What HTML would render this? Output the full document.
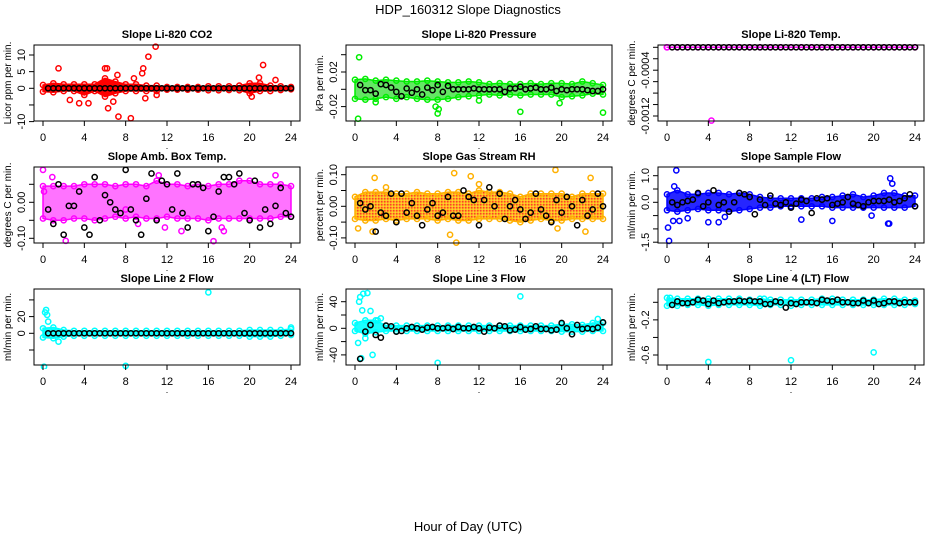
<!DOCTYPE html>
<html><head><meta charset="utf-8"><style>
html,body{margin:0;padding:0;background:#fff;}
svg{display:block;font-family:"Liberation Sans",sans-serif;}
</style></head><body>
<svg id="chart" width="936" height="540" viewBox="0 0 936 540">
<defs>
<pattern id="rhpat" width="3" height="3" patternUnits="userSpaceOnUse">
<rect width="3" height="3" fill="#ffa500"/><rect width="1.5" height="1.5" fill="#ff2000"/><rect x="1.5" y="1.5" width="1.5" height="1.5" fill="#ffd000"/>
</pattern>
<pattern id="speck" width="4" height="4" patternUnits="userSpaceOnUse">
<rect width="4" height="4" fill="#fff"/><rect width="2" height="2" fill="#000"/><rect x="2" y="2" width="2" height="2" fill="#000"/>
</pattern>
</defs>
<text x="468" y="14" text-anchor="middle" font-size="13">HDP_160312  Slope Diagnostics</text>
<text x="468" y="531" text-anchor="middle" font-size="13">Hour of Day (UTC)</text>
<g id="panels"></g>
</svg>
<script>
// ---- data ----
const hours = [0,1,2,3,4,5,6,7,8,9,10,11,12,13,14,15,16,17,18,19,20,21,22,23,24];
const blackTimes = [0.5,1,1.5,2,2.5,3,3.5,4,4.5,5,5.5,6,6.5,7,7.5,8,8.5,9,9.5,10,10.5,11,11.5,12,12.5,13,13.5,14,14.5,15,15.5,16,16.5,17,17.5,18,18.5,19,19.5,20,20.5,21,21.5,22,22.5,23,23.5,24];
const xTicks = [0,4,8,12,16,20,24];

const co2Hi = [1,1.5,1.2,1.2,1.2,1.2,3,2,1.2,1.2,0.8,0.8,0.4,0.4,0.4,0.4,0.6,0.6,0.6,0.8,1.5,1.5,0.8,0.6,0.4];
const co2Lo = [-1,-1.2,-0.8,-0.8,-2,-0.8,-2.5,-1.5,-0.8,-0.8,-0.8,-0.8,-0.4,-0.4,-0.4,-0.4,-0.6,-0.6,-0.5,-0.6,-1.5,-0.8,-0.8,-0.5,-0.3];
const co2OutT = [1.5,2.6,3.5,4.4,6.3,6.8,7.2,7.3,8.5,8.8,9.6,9.7,9.9,10.2,10.9,11,20.2,20.9,21.3,22.5,6,6.2];
const co2OutV = [6,-3.5,-4.5,-4.5,-6,-4,4,-8.5,-9,3,4.5,6,-3,9.5,12.5,-2,-2.5,3.2,7,2.5,6,6];
const co2Black = [0,0,0,0,0,0,0,0,0,0,0,0,0,0,0,0,0,0,0,0,0,0,0,0,0,0,0,0,0,0,0,0,0,0,0,0,0,0,0,0,0,0,0,0,0,0,0,0];

const presHi = [0.011,0.012,0.01,0.011,0.01,0.009,0.009,0.01,0.009,0.008,0.008,0.009,0.008,0.006,0.007,0.006,0.006,0.007,0.006,0.007,0.007,0.006,0.009,0.007,0.005];
const presLo = [-0.011,-0.012,-0.011,-0.009,-0.011,-0.009,-0.011,-0.012,-0.012,-0.011,-0.009,-0.008,-0.007,-0.006,-0.007,-0.006,-0.007,-0.006,-0.006,-0.006,-0.009,-0.008,-0.007,-0.005,-0.006];
const presOutT = [0.4,0.3,8,8.1,7.8,16,24,12,2,19.8];
const presOutV = [0.037,-0.034,-0.028,-0.023,-0.02,-0.026,-0.027,-0.013,-0.015,-0.016];
const presBlack = [0.005,-0.001,-0.001,-0.005,0.006,0.005,0.002,-0.003,-0.008,0.001,-0.004,0,-0.006,0.002,-0.001,0.005,-0.003,0.004,0,0,0,0,0.001,0,0,0,0,0,-0.003,0.001,0.001,0.003,0,0.001,0.002,0,0,0.002,-0.002,0,-0.001,0,0,0,-0.001,-0.002,-0.002,0];

const tempHi = [0,0,0,0,0,0,0,0,0,0,0,0,0,0,0,0,0,0,0,0,0,0,0,0,0];
const tempLo = [0,0,0,0,0,0,0,0,0,0,0,0,0,0,0,0,0,0,0,0,0,0,0,0,0];
const tempOutT = [4.3,0];
const tempOutV = [-0.00128,0];
const tempBlack = [0,0,0,0,0,0,0,0,0,0,0,0,0,0,0,0,0,0,0,0,0,0,0,0,0,0,0,0,0,0,0,0,0,0,0,0,0,0,0,0,0,0,0,0,0,0,0,0];

const ambHi = [0.045,0.045,0.045,0.045,0.05,0.05,0.05,0.045,0.05,0.05,0.045,0.06,0.05,0.05,0.045,0.05,0.045,0.05,0.05,0.06,0.06,0.05,0.05,0.05,0.045];
const ambLo = [-0.045,-0.05,-0.05,-0.045,-0.045,-0.05,-0.045,-0.04,-0.045,-0.04,-0.045,-0.045,-0.04,-0.045,-0.045,-0.045,-0.05,-0.045,-0.045,-0.045,-0.045,-0.045,-0.045,-0.04,-0.04];
const ambOutT = [0,0.9,2.2,9.2,11.8,13.4,16.5,17.5,22.5,11.2,0.1,8,17.3];
const ambOutV = [0.09,0.07,-0.107,-0.06,-0.07,-0.08,-0.108,-0.08,0.075,0.075,0.03,-0.02,-0.07];
const ambBlack = [-0.02,-0.06,0.05,-0.09,-0.01,-0.01,0.03,-0.07,-0.09,0.07,-0.05,0.02,0,-0.02,-0.03,0.09,-0.02,-0.05,-0.09,0.01,0.08,-0.05,0.06,0.05,-0.02,0.08,-0.03,-0.07,0.05,0.05,0.04,-0.08,-0.04,0.03,0.07,0.07,0.05,0.08,-0.03,-0.05,0.06,-0.07,-0.02,-0.06,-0.01,0.04,-0.03,-0.04];

const rhHi = [0.03,0.045,0.045,0.045,0.04,0.04,0.045,0.04,0.04,0.045,0.045,0.04,0.05,0.045,0.045,0.04,0.03,0.04,0.04,0.04,0.04,0.03,0.04,0.04,0.04];
const rhLo = [-0.04,-0.045,-0.045,-0.04,-0.045,-0.04,-0.04,-0.04,-0.045,-0.04,-0.045,-0.045,-0.04,-0.04,-0.04,-0.045,-0.05,-0.045,-0.04,-0.045,-0.045,-0.04,-0.04,-0.04,-0.04];
const rhOutT = [0.3,1.9,9.6,9.8,9.2,11.2,19.4,22.3,22.8,1.7,19.6,12,3];
const rhOutV = [-0.07,0.09,0.105,-0.115,-0.09,0.095,0.115,-0.08,0.09,-0.08,-0.07,0.07,0.06];
const rhBlack = [0.01,-0.01,0,-0.08,-0.02,-0.03,0.04,-0.05,0.04,-0.02,0.01,-0.03,-0.06,-0.01,0.01,-0.03,-0.02,0.03,-0.03,-0.03,0.05,0.03,0.02,-0.06,0.02,0.06,0,0.04,-0.04,0,0.02,-0.01,-0.04,-0.02,0.04,-0.01,-0.03,-0.05,0.02,-0.02,0.03,0,-0.06,0.02,-0.03,-0.01,0.04,0];

const flowHi = [0.3,0.45,0.3,0.3,0.35,0.35,0.3,0.35,0.3,0.2,0.15,0.15,0.15,0.15,0.15,0.2,0.2,0.25,0.3,0.2,0.25,0.35,0.35,0.25,0.25];
const flowLo = [-0.3,-0.35,-0.3,-0.25,-0.3,-0.3,-0.35,-0.3,-0.25,-0.2,-0.2,-0.15,-0.15,-0.15,-0.15,-0.15,-0.2,-0.2,-0.2,-0.2,-0.2,-0.2,-0.2,-0.2,-0.15];
const flowOutT = [0.1,0.2,0.7,0.9,0.6,1.2,2,4,13,16,19.8,21.4,21.6,21.8,5,5.6,21.5];
const flowOutV = [-0.95,-1.45,0.6,1.2,-0.7,-0.7,-0.6,-0.75,-0.65,-0.7,-0.5,-0.8,0.9,0.7,-0.75,-0.55,-0.8];
const flowBlack = [0,-0.1,0,0.05,0.1,0.35,-0.15,0,0.45,-0.1,0,-0.35,0,0.35,0.3,0.2,-0.45,0.1,-0.1,0.25,-0.05,-0.1,0,-0.2,-0.05,0.1,0.05,-0.4,0.15,0.1,0.15,-0.1,-0.05,0,0.2,-0.05,-0.1,-0.15,0,0.05,0.05,0.05,0.1,0,0.05,0.15,0.3,-0.15];

const l2Hi = [6,7,4,3,3,3,3,3,3,3,3,3,3,3,3,3,3,3,3,3,4,4,4,4,5];
const l2Lo = [-5,-6,-4,-3,-3,-3,-3,-3,-3,-3,-3,-3,-3,-3,-3,-3,-3,-3,-3,-3,-4,-4,-4,-3,-2];
const l2OutT = [0.2,0.3,0.4,0.5,0.1,8,16,1.5,24];
const l2OutV = [25,28,22,14,-40,-39,49,-10,7];
const l2Black = [0,0,0,0,0,0,0,0,0,0,0,0,0,0,0,0,0,0,0,0,0,0,0,0,0,0,0,0,0,0,0,0,0,0,0,0,0,0,0,0,0,0,0,0,0,0,0,0];

const l3Hi = [8,12,12,4,4,4,4,4,4,4,4,4,4,4,4,4,4,4,4,4,6,6,5,8,8];
const l3Lo = [-4,-8,-6,-4,-4,-4,-4,-4,-4,-4,-4,-4,-4,-4,-4,-4,-4,-4,-4,-4,-5,-5,-5,-4,-4];
const l3OutT = [0.3,0.5,0.4,0.8,1.2,0.7,1.5,1.0,0.6,1.7,8,16,2.2,2.5,23.5];
const l3OutV = [-22,47,40,52,53,27,26,-15,-45,-40,-52,48,12,15,14];
const l3Black = [-46,-5,5,-10,-14,4,3,-5,-4,0,2,0,-2,1,2,0,0,1,-1,2,0,0,2,0,-5,1,0,4,3,-3,-2,2,-2,-1,3,-1,-1,-3,-2,8,0,-9,5,-1,0,-1,1,9];

const l4Hi = [0.05,0.04,0.04,0.04,0.04,0.04,0.04,0.04,0.03,0.04,0.03,0.03,0.03,0.03,0.03,0.04,0.04,0.03,0.03,0.03,0.03,0.04,0.04,0.03,0.02];
const l4Lo = [-0.04,-0.04,-0.03,-0.03,-0.04,-0.03,-0.03,-0.03,-0.03,-0.04,-0.03,-0.03,-0.04,-0.03,-0.03,-0.03,-0.03,-0.03,-0.03,-0.03,-0.03,-0.03,-0.03,-0.03,-0.02];
const l4OutT = [4,12,20,0.3,9.4];
const l4OutV = [-0.68,-0.66,-0.57,0.05,0.04];
const l4Black = [-0.03,0.01,-0.01,-0.01,0,0.03,0.02,-0.02,0.02,-0.01,0,0.01,0.01,0.02,0.01,0.02,0.01,0.01,-0.02,-0.02,0.01,0,-0.06,-0.01,-0.02,0,0,0,-0.01,0.03,0.02,0.01,0.03,0,0,-0.01,-0.01,0.02,-0.01,0.02,-0.02,-0.01,0.01,0.01,-0.01,0,0,0];

// ---- layout / rendering ----
const NS = "http://www.w3.org/2000/svg";
const root = document.getElementById('panels');
function mk(tag, attrs, parent) {
  const e = document.createElementNS(NS, tag);
  for (const k in attrs) e.setAttribute(k, attrs[k]);
  parent.appendChild(e);
  return e;
}
const panels = [
  {title:"Slope Li-820 CO2", ylab:"Licor ppm per min.", col:0,row:0, r1:[0,88.3], r2:[10,55], ticks:[-10,-5,0,5,10], labs:{"10":"10","5":"5","0":"0","-10":"-10"}, color:"#ff0000", fill:"#ff0000", op:1, hi:co2Hi, lo:co2Lo, ot:co2OutT, ov:co2OutV, bk:co2Black, name:"co2"},
  {title:"Slope Li-820 Pressure", ylab:"kPa per min.", col:1,row:0, r1:[0,89.3], r2:[0.02,72], ticks:[-0.04,-0.02,0,0.02,0.04], labs:{"0.02":"0.02","-0.02":"-0.02"}, color:"#00ee00", fill:"#22dd22", op:0.7, hi:presHi, lo:presLo, ot:presOutT, ov:presOutV, bk:presBlack, name:"pressure"},
  {title:"Slope Li-820 Temp.", ylab:"degrees C per min.", col:2,row:0, r1:[0,47.3], r2:[-0.0012,116], ticks:[0,-0.0002,-0.0004,-0.0006,-0.0008,-0.001,-0.0012], labs:{"-0.0004":"-0.0004","-0.0012":"-0.0012"}, color:"#ff00ff", fill:"#ff00ff", op:1, hi:tempHi, lo:tempLo, ot:tempOutT, ov:tempOutV, bk:tempBlack, name:"temp"},
  {title:"Slope Amb. Box Temp.", ylab:"degrees C per min.", col:0,row:1, r1:[0,202.3], r2:[-0.1,238.3], ticks:[-0.1,-0.05,0,0.05], labs:{"0":"0.00","-0.1":"-0.10"}, color:"#ff00ff", fill:"#ff00ff", op:0.55, hi:ambHi, lo:ambLo, ot:ambOutT, ov:ambOutV, bk:ambBlack, name:"amb-temp"},
  {title:"Slope Gas Stream RH", ylab:"percent per min.", col:1,row:1, r1:[0,206.3], r2:[0.1,174.7], ticks:[-0.1,-0.05,0,0.05,0.1], labs:{"0.1":"0.10","0":"0.00","-0.1":"-0.10"}, color:"#ffb000", fill:"url(#rhpat)", op:0.85, hi:rhHi, lo:rhLo, ot:rhOutT, ov:rhOutV, bk:rhBlack, name:"rh"},
  {title:"Slope Sample Flow", ylab:"ml/min per min.", col:2,row:1, r1:[0,202.3], r2:[1,175.7], ticks:[-1.5,-1,-0.5,0,0.5,1], labs:{"1":"1.0","0":"0.0","-1.5":"-1.5"}, color:"#0000ff", fill:"#0000ff", op:0.85, hi:flowHi, lo:flowLo, ot:flowOutT, ov:flowOutV, bk:flowBlack, name:"sample-flow"},
  {title:"Slope Line 2 Flow", ylab:"ml/min per min.", col:0,row:2, r1:[0,333.3], r2:[-40,366.7], ticks:[-40,-20,0,20,40], labs:{"20":"20","0":"0","-40":"-40"}, color:"#00ffff", fill:"#00ffff", op:0.9, hi:l2Hi, lo:l2Lo, ot:l2OutT, ov:l2OutV, bk:l2Black, name:"line2-flow"},
  {title:"Slope Line 3 Flow", ylab:"ml/min per min.", col:1,row:2, r1:[0,328.3], r2:[40,301.7], ticks:[-40,-20,0,20,40], labs:{"40":"40","0":"0","-40":"-40"}, color:"#00ffff", fill:"#00ffff", op:0.9, hi:l3Hi, lo:l3Lo, ot:l3OutT, ov:l3OutV, bk:l3Black, name:"line3-flow"},
  {title:"Slope Line 4 (LT) Flow", ylab:"ml/min per min.", col:2,row:2, r1:[0,302.3], r2:[-0.6,355], ticks:[-0.6,-0.4,-0.2,0], labs:{"-0.2":"-0.2","-0.6":"-0.6"}, color:"#00ffff", fill:"#00ffff", op:0.9, hi:l4Hi, lo:l4Lo, ot:l4OutT, ov:l4OutV, bk:l4Black, name:"line4-flow"}
];

panels.forEach(p => {
  const g = mk('g', {}, root);
  
  
  const bx0 = 34 + 312*p.col, bx1 = 300 + 312*p.col;
  const by0 = 45 + 122*p.row, by1 = 121 + 122*p.row;
  const xs = t => 43 + 312*p.col + t*248/24;
  const k = (p.r2[1]-p.r1[1])/(p.r2[0]-p.r1[0]);
  const ys = v => p.r1[1] + (v - p.r1[0])*k;
  const clip = mk('clipPath', {id:'clip-'+p.name}, g);
  mk('rect', {x:bx0, y:by0-4, width:bx1-bx0, height:by1-by0+8}, clip);
  const data = mk('g', {'clip-path':'url(#clip-'+p.name+')'}, g);
  let d = '';
  hours.forEach((h,i) => { d += (i?'L':'M') + xs(h).toFixed(1) + ' ' + ys(p.hi[i]).toFixed(1); });
  for (let i = hours.length-1; i >= 0; i--) d += 'L' + xs(hours[i]).toFixed(1) + ' ' + ys(p.lo[i]).toFixed(1);
  const band = mk('path', {d:d+'Z', fill:p.fill, 'fill-opacity':p.op, stroke:p.color, 'stroke-width':1.5, 'stroke-linejoin':'round'}, data);
  
  
  hours.forEach((h,i) => {
    [p.hi[i], p.lo[i]].forEach(v => {
      const c = mk('circle', {cx:xs(h), cy:ys(v), r:2.6, fill:'none', stroke:p.color, 'stroke-width':1.5}, data);
      
      
    });
  });
  p.ot.forEach((t,i) => {
    const c = mk('circle', {cx:xs(t), cy:ys(p.ov[i]), r:2.6, fill:'none', stroke:p.color, 'stroke-width':1.5}, data);
    
    
  });
  blackTimes.forEach((t,i) => {
    const c = mk('circle', {cx:xs(t), cy:ys(p.bk[i]), r:2.6, fill:'none', stroke:'#000', 'stroke-width':1.5}, data);
    
    
  });
  const box = mk('rect', {x:bx0, y:by0, width:bx1-bx0, height:by1-by0, fill:'none', stroke:'#000', 'stroke-width':1}, g);
  
  
  const ti = mk('text', {x:(bx0+bx1)/2, y:by0-7, 'text-anchor':'middle', 'font-size':11, 'font-weight':'bold'}, g);
  ti.textContent = p.title;
  
  
  xTicks.forEach(t => {
    mk('line', {x1:xs(t), x2:xs(t), y1:by1, y2:by1+5, stroke:'#000'}, g);
    const tl = mk('text', {x:xs(t), y:by1+20, 'text-anchor':'middle', 'font-size':11}, g);
    tl.textContent = String(t);
    
    
  });
  const dot = mk('text', {x:xs(12), y:by1+28, 'text-anchor':'middle', 'font-size':9}, g);
  dot.textContent = '.';
  p.ticks.forEach(v => {
    const y = ys(v);
    if (y < by0-1 || y > by1+1) return;
    mk('line', {x1:bx0-5, x2:bx0, y1:y, y2:y, stroke:'#000'}, g);
    const key = String(v);
    if (p.labs[key] !== undefined) {
      const yl = mk('text', {x:0, y:0, transform:'translate('+(bx0-9)+','+y+') rotate(-90)', 'text-anchor':'middle', 'font-size':11}, g);
      yl.textContent = p.labs[key];
      
      
    }
  });
  const yt = mk('text', {x:0, y:0, transform:'translate('+(bx0-23)+','+((by0+by1)/2)+') rotate(-90)', 'text-anchor':'middle', 'font-size':10}, g);
  yt.textContent = p.ylab;
  
  
});
</script>
</body></html>
